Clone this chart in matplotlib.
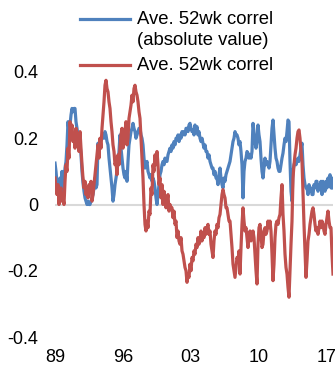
import numpy as np
import matplotlib
matplotlib.use("Agg")
import matplotlib.pyplot as plt
from matplotlib.lines import Line2D

plt.rcParams['font.family'] = ['Liberation Sans', 'DejaVu Sans']

# weekly-ish readings, 1989 .. Aug 2017
abs_correl = [
    0.125, 0.10, 0.065, 0.03, 0.06, 0.08, 0.05, 0.10, 0.04, 0.07,
    0.11, 0.13, 0.18, 0.25, 0.22, 0.24, 0.27, 0.29, 0.28, 0.29,
    0.29, 0.25, 0.23, 0.21, 0.20, 0.185, 0.15, 0.10, 0.065, 0.04,
    0.02, 0.01, 0.00, 0.01, 0.00, 0.00, 0.01, 0.02, 0.03, 0.05,
    0.08, 0.05, 0.06, 0.185, 0.17, 0.19, 0.20, 0.20, 0.21, 0.20,
    0.22, 0.21, 0.19, 0.18, 0.14, 0.11, 0.08, 0.05, 0.01, 0.03,
    0.06, 0.08, 0.10, 0.13, 0.16, 0.21, 0.17, 0.14, 0.11, 0.09,
    0.08, 0.10, 0.07, 0.13, 0.18, 0.20, 0.22, 0.23, 0.245, 0.23,
    0.22, 0.20, 0.21, 0.22, 0.23, 0.23, 0.21, 0.20, 0.18, 0.14,
    0.11, 0.12, 0.13, 0.10, 0.09, 0.08, 0.09, 0.07, 0.08, 0.07,
    0.05, 0.02, 0.00, 0.03, 0.06, 0.09, 0.10, 0.12, 0.13, 0.12,
    0.14, 0.13, 0.13, 0.15, 0.16, 0.17, 0.16, 0.18, 0.17, 0.19,
    0.18, 0.20, 0.20, 0.21, 0.19, 0.21, 0.20, 0.22, 0.21, 0.22,
    0.21, 0.23, 0.23, 0.22, 0.24, 0.245, 0.23, 0.22, 0.225, 0.21,
    0.24, 0.22, 0.235, 0.21, 0.22, 0.20, 0.19, 0.20, 0.185, 0.17,
    0.18, 0.16, 0.16, 0.14, 0.15, 0.13, 0.12, 0.11, 0.11, 0.09,
    0.10, 0.08, 0.08, 0.06, 0.09, 0.11, 0.08, 0.06, 0.05, 0.08,
    0.07, 0.09, 0.10, 0.11, 0.12, 0.13, 0.15, 0.17, 0.19, 0.20,
    0.22, 0.21, 0.21, 0.20, 0.18, 0.19, 0.16, 0.12, 0.02, 0.10,
    0.13, 0.14, 0.16, 0.155, 0.14, 0.15, 0.14, 0.16, 0.245, 0.22,
    0.19, 0.17, 0.19, 0.24, 0.21, 0.19, 0.14, 0.10, 0.08, 0.11,
    0.14, 0.12, 0.13, 0.12, 0.11, 0.13, 0.18, 0.23, 0.255, 0.21,
    0.17, 0.14, 0.13, 0.11, 0.10, 0.10, 0.12, 0.14, 0.155, 0.18,
    0.20, 0.19, 0.22, 0.255, 0.25, 0.13, 0.04, 0.01, 0.10, 0.12,
    0.13, 0.12, 0.13, 0.14, 0.13, 0.15, 0.17, 0.185, 0.12, 0.08,
    0.06, 0.05, 0.05, 0.03, 0.06, 0.04, 0.05, 0.03, 0.03, 0.06,
    0.05, 0.07, 0.07, 0.04, 0.06, 0.05, 0.07, 0.03, 0.07, 0.05,
    0.04, 0.07, 0.05, 0.08, 0.06, 0.09, 0.05, 0.08, 0.05,
]

correl = [
    0.08, 0.05, 0.03, 0.06, 0.00, 0.04, 0.05, 0.01, 0.02, 0.00,
    0.07, 0.12, 0.10, 0.17, 0.14, 0.25, 0.22, 0.24, 0.19, 0.21,
    0.17, 0.23, 0.18, 0.20, 0.16, 0.22, 0.17, 0.12, 0.08, 0.05,
    0.07, 0.03, 0.05, 0.02, 0.06, 0.04, 0.07, 0.01, 0.03, 0.06,
    0.09, 0.12, 0.15, 0.18, 0.14, 0.20, 0.17, 0.23, 0.27, 0.31,
    0.36, 0.375, 0.35, 0.34, 0.31, 0.29, 0.25, 0.22, 0.18, 0.16,
    0.12, 0.13, 0.09, 0.15, 0.12, 0.17, 0.21, 0.23, 0.17, 0.19,
    0.22, 0.25, 0.18, 0.20, 0.26, 0.28, 0.30, 0.33, 0.31, 0.35,
    0.36, 0.34, 0.33, 0.31, 0.28, 0.26, 0.20, 0.14, 0.08, 0.00,
    -0.06, -0.08, -0.05, -0.07, -0.02, -0.03, 0.05, 0.03, 0.12, 0.10,
    0.15, 0.12, 0.16, 0.12, 0.06, 0.08, 0.02, 0.06, 0.00, 0.04,
    0.02, -0.01, 0.01, 0.03, -0.02, 0.00, -0.01, -0.01, -0.04, -0.02,
    -0.06, -0.05, -0.10, -0.08, -0.11, -0.12, -0.10, -0.14, -0.15, -0.17,
    -0.19, -0.20, -0.235, -0.21, -0.22, -0.18, -0.20, -0.16, -0.17, -0.14,
    -0.15, -0.12, -0.13, -0.10, -0.12, -0.11, -0.08, -0.11, -0.09, -0.10,
    -0.07, -0.09, -0.07, -0.06, -0.09, -0.08, -0.12, -0.14, -0.16, -0.11,
    -0.08, -0.09, -0.06, -0.07, -0.04, -0.03, 0.00, 0.03, 0.045, 0.03,
    0.02, -0.01, -0.01, -0.03, -0.05, -0.05, -0.09, -0.13, -0.18, -0.20,
    -0.22, -0.19, -0.16, -0.17, -0.14, -0.21, -0.13, -0.06, -0.01, -0.05,
    -0.08, -0.07, -0.10, -0.13, -0.09, -0.08, -0.11, -0.09, -0.08, -0.10,
    -0.15, -0.20, -0.24, -0.12, -0.07, -0.06, -0.09, -0.13, -0.12, -0.08,
    -0.07, -0.09, -0.08, -0.05, -0.07, -0.05, -0.08, -0.15, -0.23, -0.18,
    -0.10, -0.06, -0.05, -0.06, -0.04, -0.03, 0.02, 0.06, -0.03, -0.08,
    -0.15, -0.19, -0.21, -0.25, -0.28, -0.20, -0.12, -0.05, 0.08, 0.12,
    0.15, 0.17, 0.20, 0.22, 0.225, 0.20, 0.16, 0.13, 0.03, -0.06,
    -0.14, -0.22, -0.17, -0.11, -0.09, -0.06, -0.04, -0.02, -0.01, -0.03,
    -0.06, -0.08, -0.07, -0.09, -0.07, -0.05, -0.07, -0.05, -0.06, -0.08,
    -0.09, -0.06, -0.04, -0.02, -0.05, -0.07, -0.07, -0.15, -0.21,
]

# observation dates as decimal years, evenly spaced like the weekly series
years = np.linspace(1989.0, 2017.66, len(correl))

tick_years = [1989, 1996, 2003, 2010, 2017]
tick_labels = ['89', '96', '03', '10', '17']
y_ticks = [-0.4, -0.2, 0, 0.2, 0.4]
y_labels = ['-0.4', '-0.2', '0', '0.2', '0.4']

blue = '#4F81BD'
red = '#C0504D'

fig = plt.figure(figsize=(3.36, 3.66), dpi=100)
ax = fig.add_axes([55 / 336, 29 / 366, 278 / 336, 265 / 366])

ax.axhline(0, color='#D9D9D9', lw=1.5, zorder=1)
ax.plot(years, abs_correl, color=blue, lw=2.3, zorder=2)
ax.plot(years, correl, color=red, lw=2.3, zorder=3)

ax.set_xlim(1989.0, 2017.66)
ax.set_ylim(-0.4, 0.4)
ax.set_xticks(tick_years)
ax.set_xticklabels(tick_labels)
ax.set_yticks(y_ticks)
ax.set_yticklabels(y_labels)
ax.tick_params(axis='both', length=0, labelsize=13)
ax.tick_params(axis='x', pad=9)
ax.tick_params(axis='y', pad=12)
for s in ax.spines.values():
    s.set_visible(False)

# legend drawn by hand so the blue key sits beside the first text line
fig.text(137 / 336, 1 - 11 / 366, 'Ave. 52wk correl\n(absolute value)', fontsize=13.3,
         va='top', ha='left', linespacing=1.32)
fig.text(137 / 336, 1 - 66 / 366, 'Ave. 52wk correl', fontsize=13.3, va='center', ha='left')
fig.add_artist(Line2D([80 / 336, 130 / 336], [1 - 19 / 366] * 2, color=blue, lw=2.3))
fig.add_artist(Line2D([80 / 336, 130 / 336], [1 - 65 / 366] * 2, color=red, lw=2.3))

fig.savefig('out.png', dpi=100)
